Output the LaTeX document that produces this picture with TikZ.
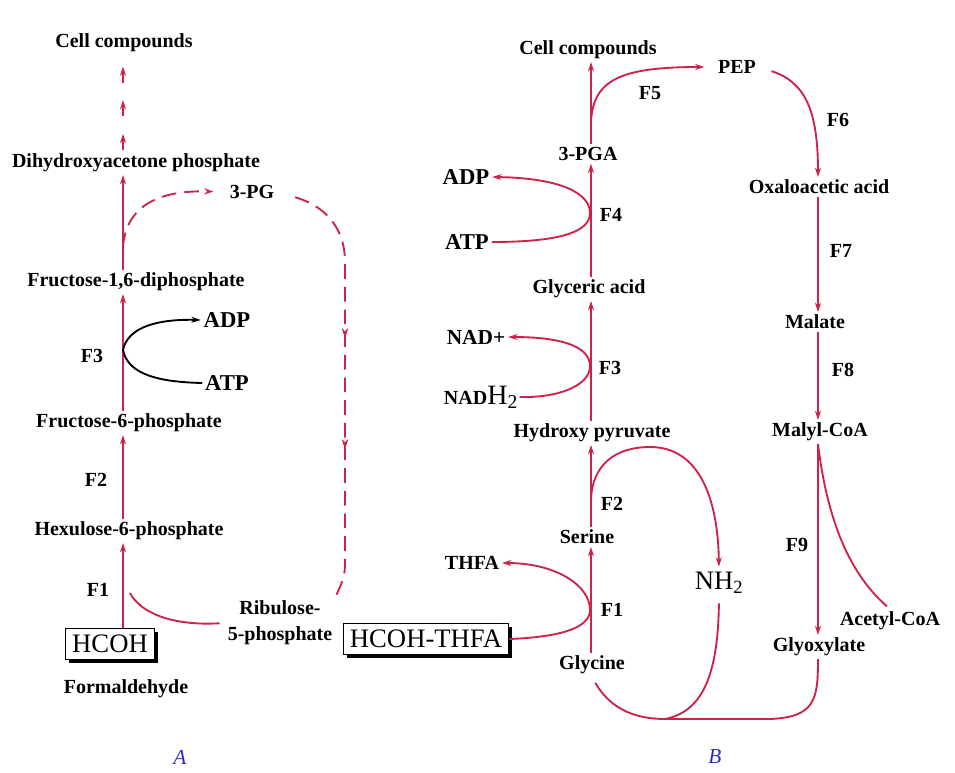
\documentclass[tikz,border=0pt]{standalone}
\usepackage{fontspec}
\setmainfont{Liberation Serif}
\usepackage{tikz}
\usetikzlibrary{arrows.meta,decorations.markings,shadows}

\definecolor{pathred}{RGB}{205,35,75}
\definecolor{labblue}{RGB}{45,45,195}

\tikzset{
  lbl/.style={font=\fontsize{15}{18}\selectfont\bfseries, inner sep=2pt},
  big/.style={font=\fontsize{17}{20}\selectfont\bfseries, inner sep=2pt},
  enz/.style={font=\fontsize{15}{18}\selectfont\bfseries, inner sep=1pt},
  panel/.style={font=\fontsize{16}{18}\selectfont\itshape, text=labblue, inner sep=1pt},
  boxnode/.style={draw, line width=1.1pt, fill=white, font=\fontsize{20}{22}\selectfont,
    inner xsep=5pt, inner ysep=5pt,
    drop shadow={shadow xshift=2.5pt, shadow yshift=-2.5pt, opacity=1, fill=black}},
  redline/.style={draw=pathred, line width=1.4pt},
  blackline/.style={draw=black, line width=1.4pt},
  tip/.style={-{Stealth[length=7pt,width=4.5pt]}},
  dashpat/.style={dash pattern={on 11pt off 6pt}},
  midtip/.style={postaction={decorate}, decoration={markings,
    mark=at position #1 with {\arrow[pathred]{Stealth[length=7pt,width=4.5pt]}}}},
  tipdash/.style={decoration={markings,
    mark=at position 0.18 with {\draw[redline,tip] (-12pt,0) -- (0,0);},
    mark=at position 0.53 with {\draw[redline,tip] (-12pt,0) -- (0,0);},
    mark=at position 0.88 with {\draw[redline,tip] (-12pt,0) -- (0,0);}}, decorate}
}

\begin{document}
\begin{tikzpicture}[x=0.75pt,y=0.75pt,yscale=-1,xscale=1]
\useasboundingbox (0,0) rectangle (955,772);

\coordinate (spineA) at (123,0);
\coordinate (spineB) at (591,0);
\coordinate (spineC) at (818,0);

% Text Node
\node[lbl] (cellA) at (124,43) {Cell compounds};
\node[lbl] (dhap) at (136,163) {Dihydroxyacetone phosphate};
\node[lbl] (pg3) at (252,192) {3-PG};
\node[lbl] (f16) at (136,282) {Fructose-1,6-diphosphate};
\node[big] (adpA) at (227,320) {ADP};
\node[big] (atpA) at (227,383) {ATP};
\node[enz] (fthreeA) at (92,356) {F3};
\node[lbl] (f6) at (129,423) {Fructose-6-phosphate};
\node[enz] (ftwoA) at (96,480) {F2};
\node[lbl] (hex) at (129,531) {Hexulose-6-phosphate};
\node[enz] (foneA) at (98,590) {F1};
\node[lbl, align=center, font=\fontsize{15}{19.5}\selectfont\bfseries] (rib) at (280,623) {Ribulose-\\5-phosphate};
\node[boxnode] (hcoh) at (110,644) {HCOH};
\node[lbl] (form) at (126,689) {Formaldehyde};
\node[panel] (labA) at (180,757) {A};

% Text Node
\node[lbl] (cellB) at (588,50) {Cell compounds};
\node[lbl] (pep) at (737,67) {PEP};
\node[enz] (ffive) at (650,93) {F5};
\node[enz] (fsix) at (838,120) {F6};
\node[lbl] (pga) at (588,154) {3-PGA};
\node[big] (adpB) at (466,177) {ADP};
\node[big] (atpB) at (467,242) {ATP};
\node[enz] (ffour) at (611,215) {F4};
\node[lbl] (oxalo) at (819,187) {Oxaloacetic acid};
\node[lbl] (glyc) at (589,289) {Glyceric acid};
\node[enz] (fseven) at (841,251) {F7};
\node[lbl] (malate) at (815,322) {Malate};
\node[big, font=\fontsize{16}{18}\selectfont\bfseries] (nadp) at (476,337) {NAD+};
\node[big, inner sep=1pt] (nadh) at (481,397) {{\fontsize{15}{18}\selectfont NAD}{\fontsize{21}{22}\selectfont\mdseries H\textsubscript{2}}};
\node[enz] (fthreeB) at (610,368) {F3};
\node[enz] (feight) at (843,370) {F8};
\node[lbl] (hydr) at (592,433) {Hydroxy pyruvate};
\node[lbl] (malyl) at (820,432) {Malyl-CoA};
\node[enz] (ftwoB) at (612,504) {F2};
\node[lbl] (serine) at (587,537) {Serine};
\node[enz] (fnine) at (797,545) {F9};
\node[lbl] (thfa) at (472,563) {THFA};
\node[inner sep=1pt, font=\fontsize{20}{22}\selectfont] (nhtwo) at (719,583) {NH\textsubscript{2}};
\node[enz] (foneB) at (612,610) {F1};
\node[lbl] (acetyl) at (890,621) {Acetyl-CoA};
\node[boxnode] (hthfa) at (426,639) {HCOH-THFA};
\node[lbl] (glyox) at (819,647) {Glyoxylate};
\node[lbl] (glycine) at (592,665) {Glycine};
\node[panel] (labB) at (715,757) {B};

% junctions
\coordinate (jA1) at (130,593);
\coordinate (jA2) at (123,247);
\coordinate (jA3) at (123,350);
\coordinate (jF1) at (590,610);
\coordinate (jF2) at (591,500);
\coordinate (jF3) at (590,366);
\coordinate (jF4) at (590,213);
\coordinate (jF5) at (591,122);
\coordinate (jBot) at (665,719);
\coordinate (bR) at (770,719);

%Straight Lines
\draw[redline,tip] (hcoh.north -| spineA) -- (hex.south -| spineA);
\draw[redline,tip] (hex.north -| spineA) -- (f6.south -| spineA);
\draw[redline,tip] (f6.north -| spineA) -- (f16.south -| spineA);
\draw[redline,tip] (f16.north -| spineA) -- (dhap.south -| spineA);
\path[tipdash] (dhap.north -| spineA) -- (cellA.south -| spineA);
%Curve Lines
\draw[redline,shorten <=4pt] (rib.west) .. controls (170,626) and (140,612) .. (jA1);
\draw[redline,dashpat,midtip=0.41,midtip=0.66,shorten <=14pt] (pg3.east) .. controls (322,205) and (345,225) .. (345,262) -- (345,565) .. controls (345,580) and (338,590) .. (rib.north east);
\draw[redline,dashpat,tip,shorten >=10pt] (jA2) .. controls (126,205) and (160,190) .. (pg3.west);
\draw[blackline,tip] (jA3) .. controls (128,326) and (160,319) .. (adpA.west);
\draw[blackline] (jA3) .. controls (128,375) and (160,382) .. (atpA.west);

%Straight Lines
\draw[redline,tip] (glycine.north -| spineB) -- (serine.south -| spineB);
\draw[redline,tip] (serine.north -| spineB) -- (hydr.south -| spineB);
\draw[redline,tip] (hydr.north -| spineB) -- (glyc.south -| spineB);
\draw[redline,tip] (glyc.north -| spineB) -- (pga.south -| spineB);
\draw[redline,tip] (pga.north -| spineB) -- (cellB.south -| spineB);
\draw[redline,tip] (oxalo.south -| spineC) -- (malate.north -| spineC);
\draw[redline,tip] (malate.south -| spineC) -- (malyl.north -| spineC);
\draw[redline,tip] (malyl.south -| spineC) -- (glyox.north -| spineC);
%Curve Lines
\draw[redline,tip,shorten >=8pt] (jF5) .. controls (593,80) and (620,67) .. (pep.west);
\draw[redline,tip,shorten <=10pt] (pep.east) .. controls (805,82) and (818,110) .. (oxalo.north -| spineC);
\draw[redline,tip] (atpB.east) .. controls (560,242) and (590,232) .. (jF4) .. controls (590,193) and (560,178) .. (adpB.east);
\draw[redline,tip] (nadh.east) .. controls (560,398) and (590,385) .. (jF3) .. controls (590,346) and (560,337) .. (nadp.east);
\draw[redline,tip] (hthfa.east) .. controls (560,637) and (590,628) .. (jF1) .. controls (590,585) and (555,563) .. (thfa.east);
\draw[redline,tip,shorten >=3pt] (jF2) .. controls (592,465) and (615,447) .. (650,447) .. controls (700,447) and (718,500) .. (nhtwo.north);
\draw[redline,shorten <=5pt] (glycine.south) .. controls (612,712) and (640,719) .. (jBot) -- (bR) .. controls (815,717) and (818,700) .. (glyox.south -| spineC);
\draw[redline,shorten <=6pt] (nhtwo.south) .. controls (718,680) and (700,712) .. (jBot);
\draw[redline,shorten >=3pt] (malyl.south -| spineC) .. controls (826,510) and (845,570) .. (acetyl.north);
\end{tikzpicture}
\end{document}
